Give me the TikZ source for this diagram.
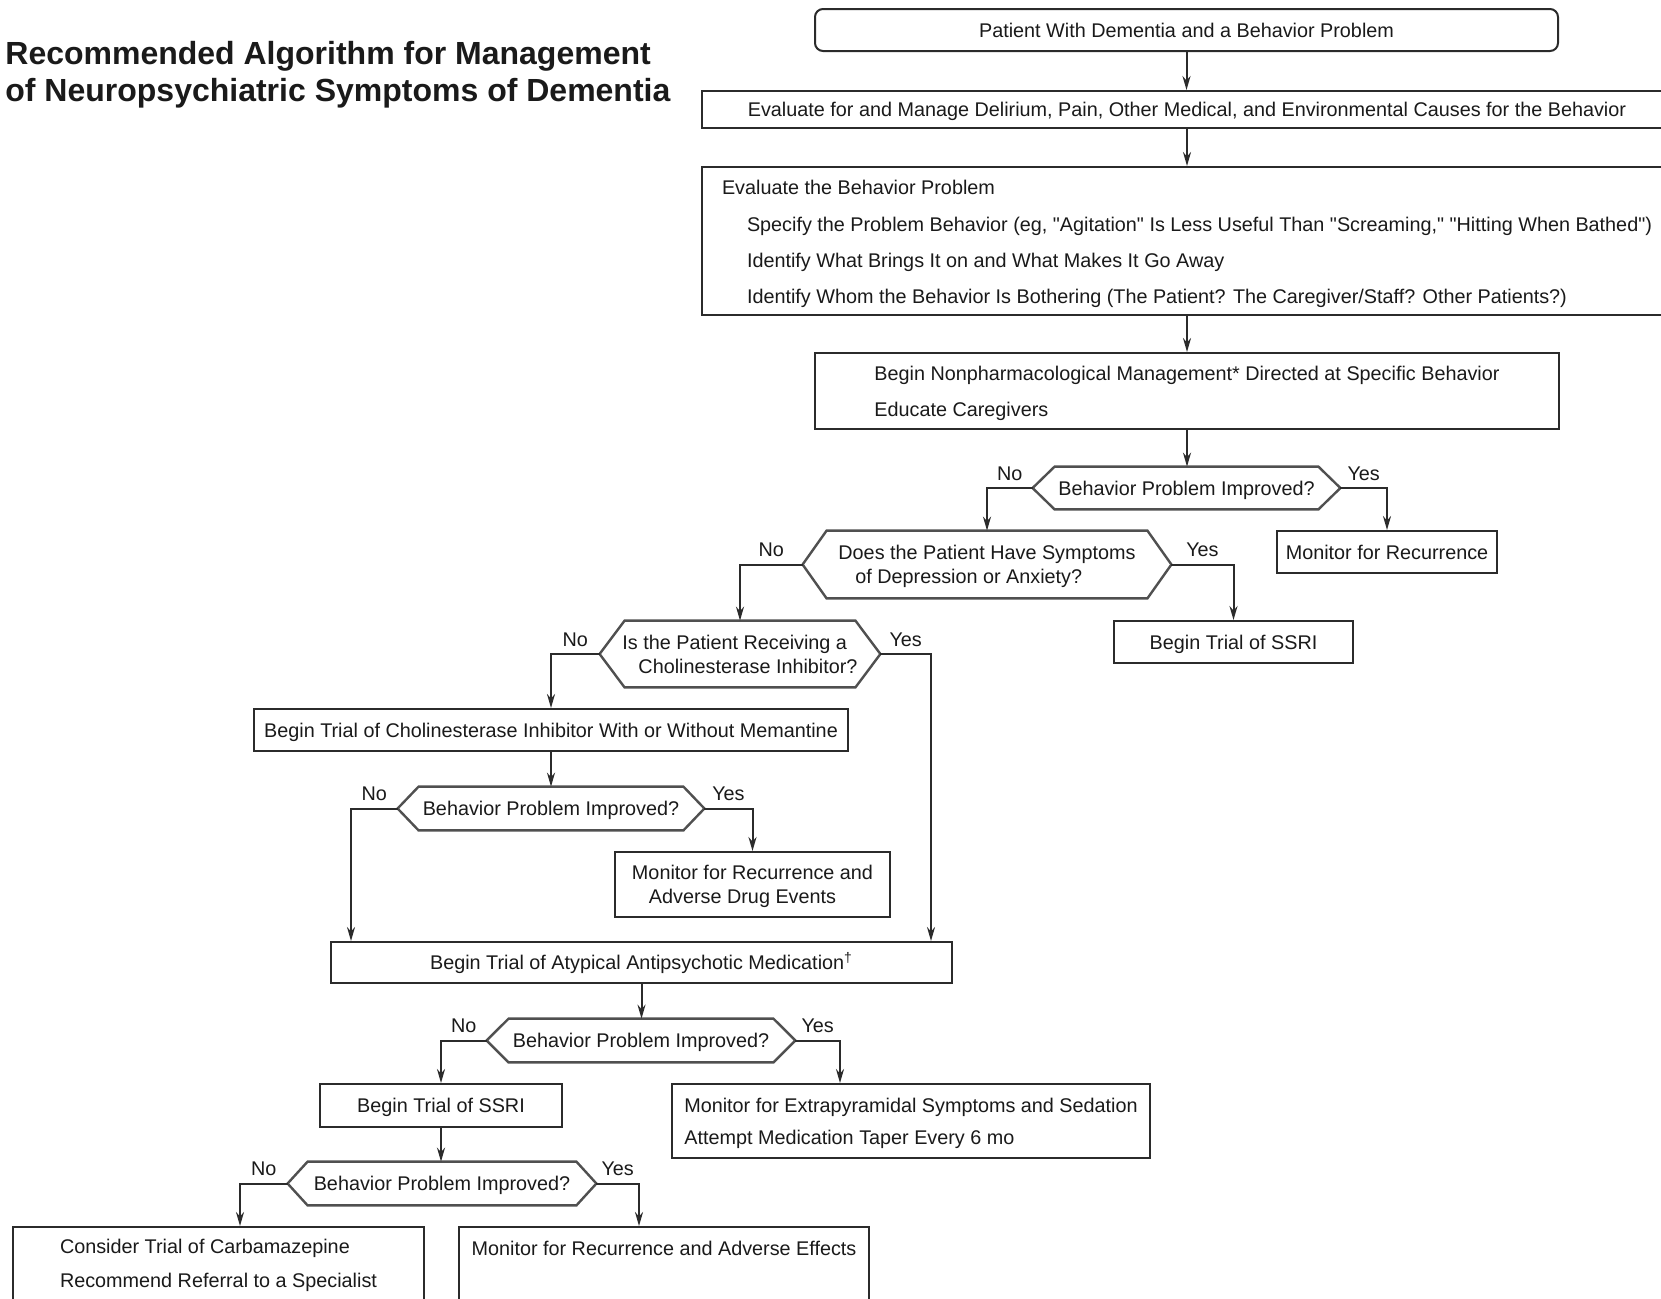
\documentclass[tikz,border=0pt]{standalone}
\usepackage{fontspec}
\setmainfont{Liberation Sans}[Ligatures=TeXOff]
\usetikzlibrary{arrows.meta,calc}
\definecolor{lc}{HTML}{2B2B2B}
\definecolor{hc}{HTML}{505050}
\definecolor{tc}{HTML}{1A1A1A}
\newcommand\hexpath[2]{\draw[hexline] (#1.west) -- ($(#1.north west)+(#2,0)$) -- ($(#1.north east)+(-#2,0)$) -- (#1.east) -- ($(#1.south east)+(-#2,0)$) -- ($(#1.south west)+(#2,0)$) -- cycle;}
\begin{document}
\begin{tikzpicture}[x=0.5pt,y=-0.5pt,
  every node/.style={text=tc, font=\fontsize{9.9}{12}\selectfont},
  box/.style={draw=lc, line width=1pt, inner sep=0pt, rectangle},
  one/.style={text height=7pt, text depth=0pt},
  hexn/.style={inner sep=0pt, rectangle},
  hexline/.style={draw=hc, line width=1.2pt, line join=miter},
  arr/.style={draw=lc, line width=1pt, -{Stealth[length=7pt,width=4pt]}},
  lbl/.style={above=2.5pt, inner sep=1pt, pos=0.25, text height=7pt, text depth=0pt},
  ttl/.style={anchor=base west, inner sep=0pt, font=\bfseries\fontsize{16}{20}\selectfont}
]
\useasboundingbox (0,0) rectangle (1661,1298);
\clip (0,0) rectangle (1661,1298);
\fill[white] (0,0) rectangle (1661,1298);

% title
\node[ttl] (t1) at (5,64) {Recommended Algorithm for Management};
\node[ttl] (t2) at (5,101) {of Neuropsychiatric Symptoms of Dementia};

% boxes
\node[box, one, rounded corners=4pt, minimum width=371.5pt, minimum height=21pt] (n1) at (1186.5,30) {Patient With Dementia and a Behavior Problem};
\node[box, one, minimum width=485pt, minimum height=18.5pt] (n2) at (1187,109.5) {Evaluate for and Manage Delirium, Pain, Other Medical, and Environmental Causes for the Behavior};
\node[box, minimum width=485pt, minimum height=74pt] (n3) at (1187,241) {};
\node[inner sep=0pt, align=left, font=\fontsize{9.9}{18}\selectfont, yshift=-1.6pt] (n3t) at (n3.center) {Evaluate the Behavior Problem\\[0.5pt]
\hspace*{12.5pt}Specify the Problem Behavior (eg, "Agitation" Is Less Useful Than "Screaming," "Hitting When Bathed")\\
\hspace*{12.5pt}Identify What Brings It on and What Makes It Go Away\\
\hspace*{12.5pt}Identify Whom the Behavior Is Bothering (The Patient? The Caregiver/Staff? Other Patients?)};
\node[box, minimum width=372pt, minimum height=38pt] (n4) at (1187,391) {};
\node[inner sep=0pt, align=left, font=\fontsize{9.9}{18}\selectfont, yshift=-1pt] (n4t) at (n4.center) {Begin Nonpharmacological Management* Directed at Specific Behavior\\
Educate Caregivers};

\node[hexn, one, minimum width=153.5pt, minimum height=21pt] (d1) at (1186.5,488) {Behavior Problem Improved?};
\node[box, one, minimum width=110pt, minimum height=21pt] (m1) at (1387,552) {Monitor for Recurrence};
\node[hexn, minimum width=184pt, minimum height=33.5pt] (d2) at (987,564.5) {};
\node[inner sep=0pt, align=left, yshift=-1pt] (d2t) at (d2.center) {Does the Patient Have Symptoms\\ \hspace*{8.5pt}of Depression or Anxiety?};
\node[box, one, minimum width=119.5pt, minimum height=21pt] (s1) at (1233.5,642) {Begin Trial of SSRI};
\node[hexn, minimum width=140pt, minimum height=33pt, align=left] (d3) at (740,654) {Is the Patient Receiving a\\ \hspace*{8pt}Cholinesterase Inhibitor?};
\node[box, one, minimum width=297pt, minimum height=21pt] (c1) at (551,730) {Begin Trial of Cholinesterase Inhibitor With or Without Memantine};
\node[hexn, one, minimum width=153pt, minimum height=21.5pt] (d4) at (551,808.5) {Behavior Problem Improved?};
\node[box, minimum width=137.5pt, minimum height=32.5pt] (m2) at (752.5,884.5) {};
\node[inner sep=0pt, align=left, yshift=-1pt] (m2t) at (m2.center) {Monitor for Recurrence and\\ \hspace*{8.5pt}Adverse Drug Events};
\node[box, one, minimum width=310.5pt, minimum height=20.5pt] (a1) at (641.5,962.5) {Begin Trial of Atypical Antipsychotic Medication\textsuperscript{\textdagger}};
\node[hexn, one, minimum width=154pt, minimum height=21.5pt] (d5) at (641,1040.5) {Behavior Problem Improved?};
\node[box, one, minimum width=121pt, minimum height=21.5pt] (s2) at (441,1105.5) {Begin Trial of SSRI};
\node[box, minimum width=239pt, minimum height=37pt] (m3) at (911,1121) {};
\node[inner sep=0pt, align=left, font=\fontsize{9.9}{16}\selectfont, yshift=-1pt] (m3t) at (m3.center) {Monitor for Extrapyramidal Symptoms and Sedation\\
Attempt Medication Taper Every 6 mo};
\node[hexn, one, minimum width=154pt, minimum height=21.5pt] (d6) at (442,1183.5) {Behavior Problem Improved?};
\node[box, minimum width=205.5pt, minimum height=38pt, align=left, font=\fontsize{9.9}{17}\selectfont] (f1) at (218.5,1265) {Consider Trial of Carbamazepine\\
Recommend Referral to a Specialist};
\node[box, minimum width=205pt, minimum height=38pt, align=left, font=\fontsize{9.9}{17}\selectfont] (f2) at (664,1265) {Monitor for Recurrence and Adverse Effects\\ \mbox{}};

% hexagon outlines
\hexpath{d1}{22}
\hexpath{d2}{24}
\hexpath{d3}{25}
\hexpath{d4}{21}
\hexpath{d5}{22}
\hexpath{d6}{20}

% connectors
\draw[arr] (n1.south) -- (n1.south |- n2.north);
\draw[arr] (n2.south) -- (n2.south |- n3.north);
\draw[arr] (n3.south) -- (n3.south |- n4.north);
\draw[arr] (n4.south) -- (n4.south |- d1.north);
\draw[arr] (d1.west) -| node[lbl]{No} (d2.north);
\draw[arr] (d1.east) -| node[lbl]{Yes} (m1.north);
\draw[arr] (d2.west) -| node[lbl]{No} (d3.north);
\draw[arr] (d2.east) -| node[lbl]{Yes} (s1.north);
\draw[arr] (d3.west) -| node[lbl]{No} (c1.north);
\draw[arr] (d3.east) -| node[lbl]{Yes} ($(a1.north east)+(-22,0)$);
\draw[arr] (c1.south) -- (c1.south |- d4.north);
\draw[arr] (d4.west) -| node[lbl]{No} ($(a1.north west)+(21,0)$);
\draw[arr] (d4.east) -| node[lbl]{Yes} (m2.north);
\draw[arr] (a1.south) -- (a1.south |- d5.north);
\draw[arr] (d5.west) -| node[lbl]{No} (s2.north);
\draw[arr] (d5.east) -| node[lbl]{Yes} ($(m3.north west)+(169,0)$);
\draw[arr] (s2.south) -- (s2.south |- d6.north);
\draw[arr] (d6.west) -| node[lbl]{No} ($(f1.north west)+(228,0)$);
\draw[arr] (d6.east) -| node[lbl]{Yes} ($(f2.north west)+(181,0)$);
\end{tikzpicture}
\end{document}
